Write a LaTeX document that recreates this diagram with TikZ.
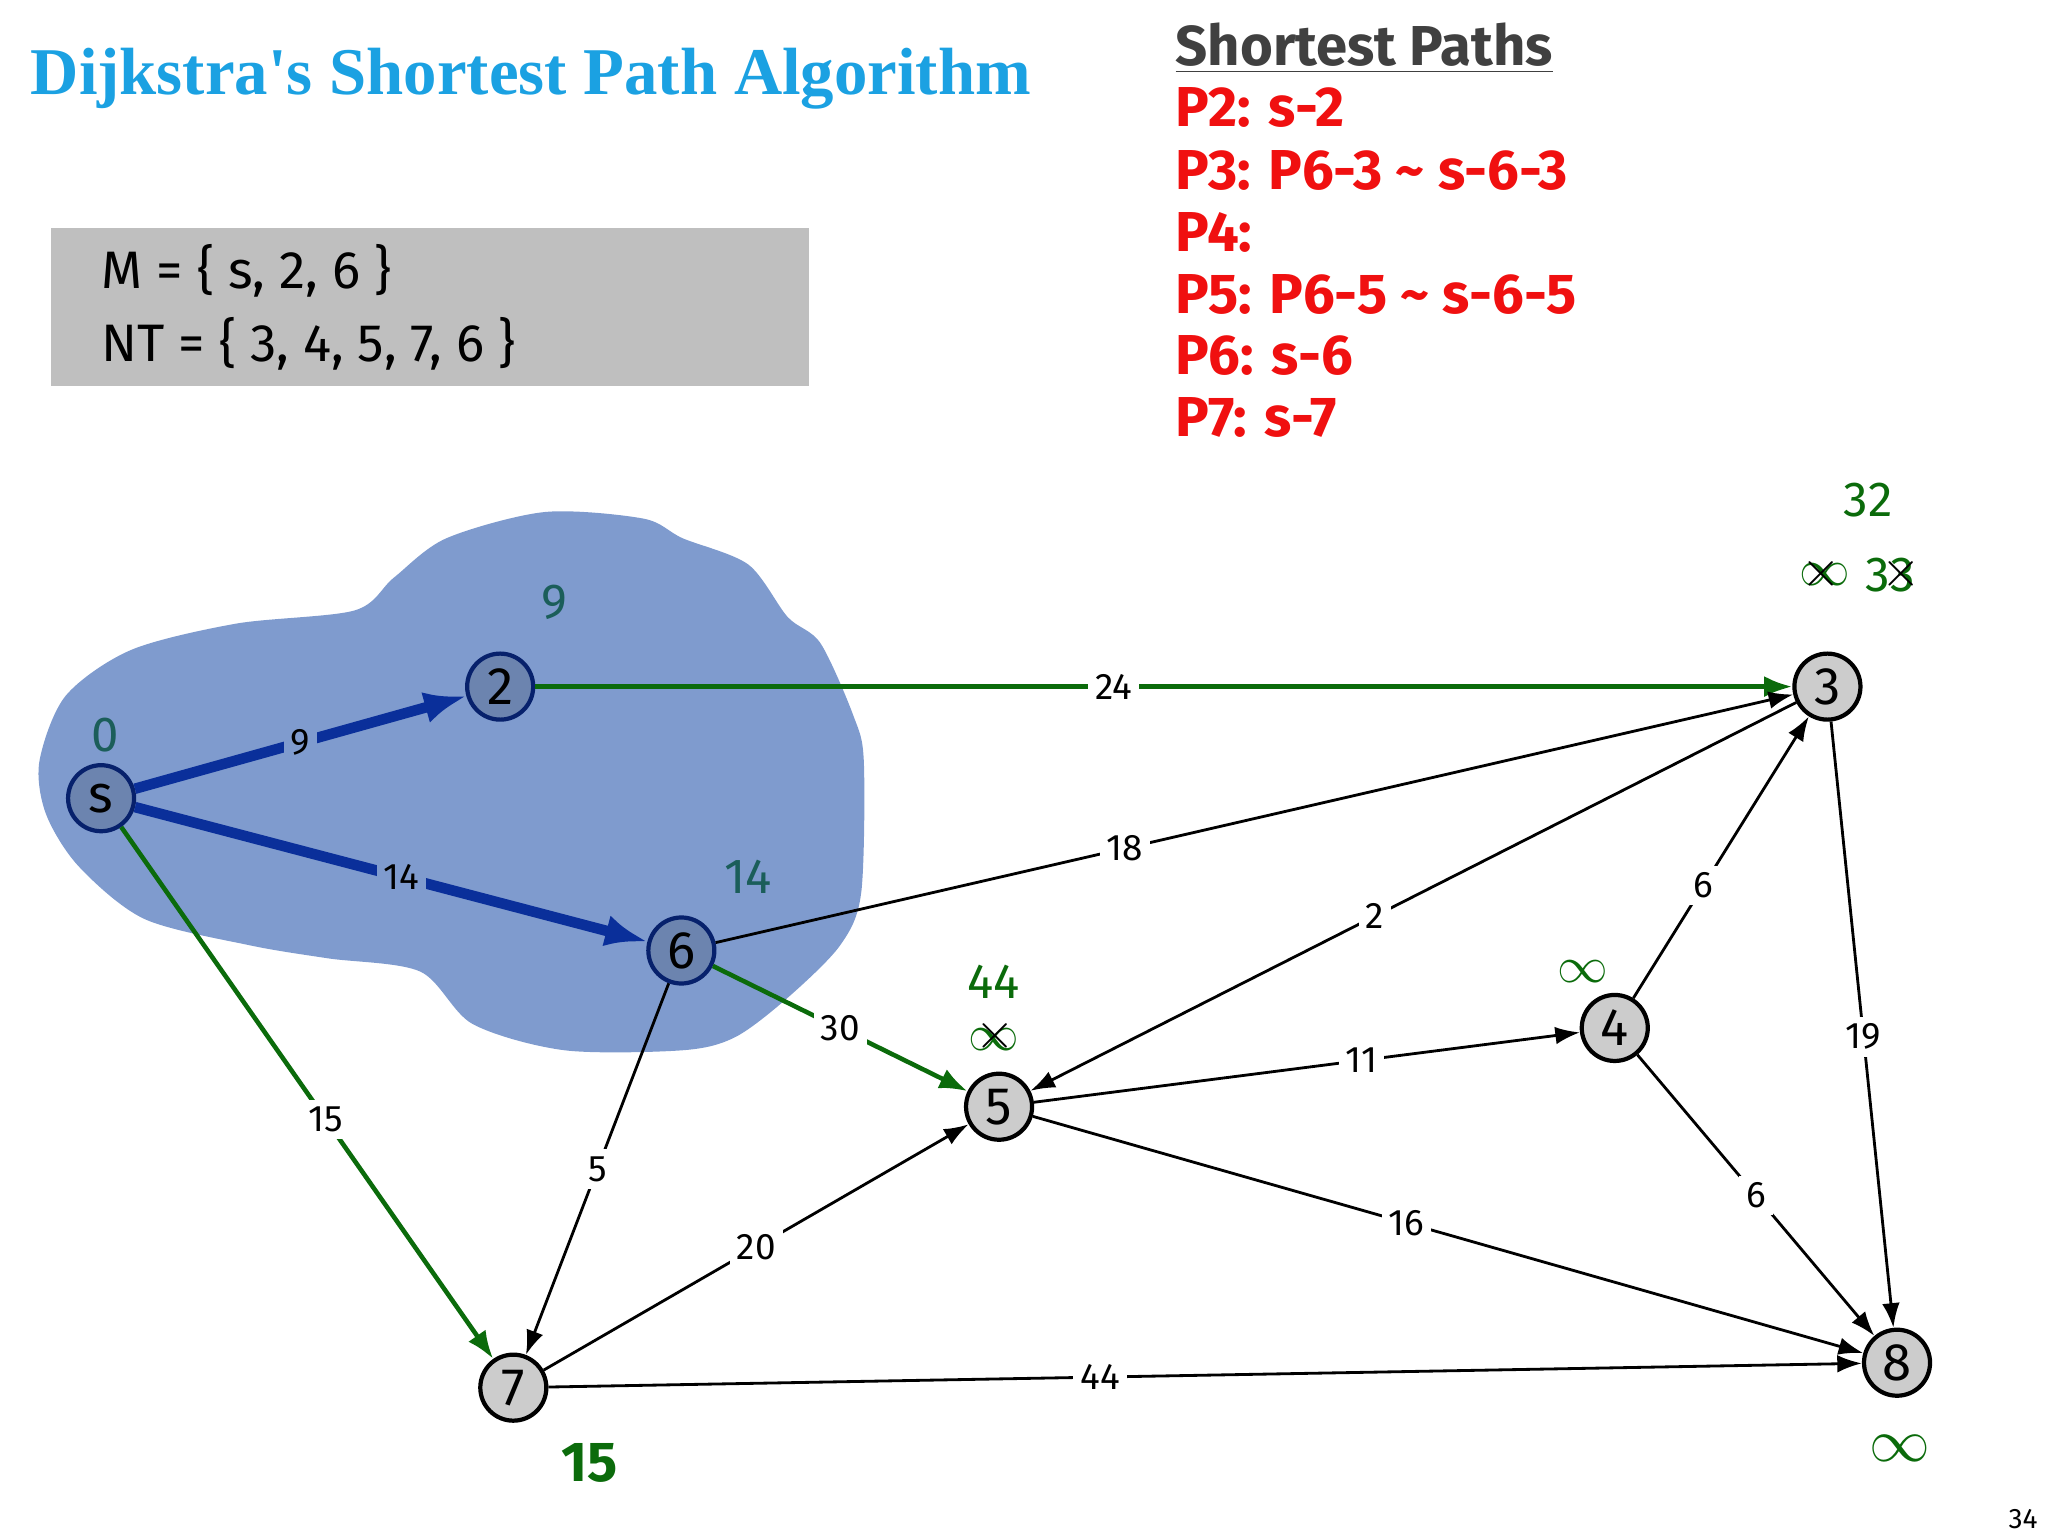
\documentclass[tikz,border=0pt]{standalone}
\usepackage{fontspec}
\setmainfont{Fira Sans}
\newfontfamily\titlefont{Liberation Serif}
\usetikzlibrary{arrows.meta}
\definecolor{blob}{HTML}{7F9BCE}
\definecolor{tblue}{HTML}{1BA1E2}
\definecolor{dgreen}{HTML}{0B6B0B}
\definecolor{teal2}{HTML}{1B5E5A}
\definecolor{navy}{HTML}{0A2F9A}
\definecolor{pred}{HTML}{F01010}
\begin{document}
\begin{tikzpicture}[x=0.013128cm,y=-0.013128cm,
  vert/.style={circle,draw,line width=1.2pt,fill=gray!40,minimum size=0.66cm,inner sep=0pt,font=\fontsize{15}{15}\selectfont},
  invert/.style={vert,fill=blob!85!black,draw=navy!70!black},
  elab/.style={fill=white,inner sep=2pt,font=\fontsize{10.5}{11}\selectfont},
  blk/.style={-{Latex[length=7pt,width=5pt]},line width=0.8pt},
  grn/.style={-{Latex[length=8pt,width=6pt]},line width=1.3pt,draw=dgreen},
  blu/.style={-{Latex[length=12pt,width=9pt]},line width=3pt,draw=navy},
  dist/.style={font=\fontsize{14}{14}\selectfont},
  red/.style={anchor=west,text=pred,font=\fontsize{16}{16}\selectfont\bfseries}]
\useasboundingbox (0,0) rectangle (1560,1170);
\fill[blob] plot[smooth cycle,tension=0.5] coordinates{(30,580)(50,530)(100,495)(180,475)(270,465)(300,440)(340,410)(415,390)(490,395)(520,410)(570,430)(600,470)(625,490)(650,545)(658,580)(656,680)(640,720)(600,760)(560,790)(520,800)(430,800)(360,780)(320,740)(250,730)(190,720)(110,700)(60,660)(35,620)};
\node[anchor=west,text=tblue,font=\titlefont\fontsize{19}{19}\selectfont\bfseries] (title) at (14,60) {Dijkstra's Shortest Path Algorithm};
\fill[gray!50] (39,174) rectangle (616,294);
\node[anchor=west,font=\fontsize{15}{15}\selectfont] (m) at (68,206) {M = \{ s, 2, 6 \}};
\node[anchor=west,font=\fontsize{15}{15}\selectfont] (nt) at (68,262) {NT = \{ 3, 4, 5, 7, 6 \}};
\node[anchor=west,text=black!75,font=\fontsize{16}{16}\selectfont\bfseries] (sp) at (886,37) {\underline{Shortest Paths}};
\node[red] (p2) at (886,82) {P2: s-2};
\node[red] (p3) at (886,130) {P3: P6-3 \textasciitilde{} s-6-3};
\node[red] (p4) at (886,177) {P4:};
\node[red] (p5) at (886,224) {P5: P6-5 \textasciitilde{} s-6-5};
\node[red] (p6) at (886,271) {P6: s-6};
\node[red] (p7) at (886,318) {P7: s-7};
\node[invert] (s) at (77,608) {s};
\node[invert] (n2) at (381,523) {2};
\node[invert] (n6) at (519,724) {6};
\node[vert] (n7) at (391,1057) {7};
\node[vert] (n5) at (761,843) {5};
\node[vert] (n4) at (1230,783) {4};
\node[vert] (n3) at (1392,523) {3};
\node[vert] (n8) at (1445,1038) {8};
\draw[blu] (s) -- node[elab,fill=blob]{9} (n2);
\draw[blu] (s) -- node[elab,fill=blob,pos=0.52]{14} (n6);
\draw[grn] (s) -- node[elab,pos=0.55]{15} (n7);
\draw[grn] (n2) -- node[elab,pos=0.46]{24} (n3);
\draw[blk] (n6) -- node[elab,pos=0.38]{18} (n3);
\draw[grn] (n6) -- node[elab,pos=0.5]{30} (n5);
\draw[blk] (n6) -- node[elab,pos=0.5]{5} (n7);
\draw[blk] (n3) -- node[elab,pos=0.55]{2} (n5);
\draw[blk] (n4) -- node[elab,pos=0.4]{6} (n3);
\draw[blk] (n5) -- node[elab,pos=0.6]{11} (n4);
\draw[blk] (n5) -- node[elab,pos=0.45]{16} (n8);
\draw[blk] (n4) -- node[elab,pos=0.5]{6} (n8);
\draw[blk] (n3) -- node[elab,pos=0.52]{19} (n8);
\draw[blk] (n7) -- node[elab,pos=0.5]{20} (n5);
\draw[blk] (n7) -- node[elab,pos=0.42]{44} (n8);
\node[dist,text=teal2] (d0) at (80,560) {0};
\node[dist,text=teal2] (d2) at (422,459) {9};
\node[dist,text=teal2] (d6) at (570,668) {14};
\node[dist,text=dgreen] (d5) at (757,748) {44};
\node[dist,text=dgreen] (d5b) at (757,792) {$\infty$};
\node[dist] (x5) at (758,789) {$\times$};
\node[dist,text=dgreen] (d4) at (1206,740) {$\infty$};
\node[dist,text=dgreen] (d3) at (1423,381) {32};
\node[dist,text=dgreen] (d3a) at (1390,438) {$\infty$};
\node[dist] (x3a) at (1387,437) {$\times$};
\node[dist,text=dgreen] (d3b) at (1440,438) {33};
\node[dist] (x3b) at (1448,437) {$\times$};
\node[dist,text=dgreen,font=\fontsize{16}{16}\selectfont\bfseries] (d7) at (449,1114) {15};
\node[dist,text=dgreen,font=\fontsize{18}{18}\selectfont] (d8) at (1447,1103) {$\mathbf{\infty}$};
\node[font=\fontsize{8}{8}\selectfont] (pg) at (1541,1157) {34};
\end{tikzpicture}
\end{document}
